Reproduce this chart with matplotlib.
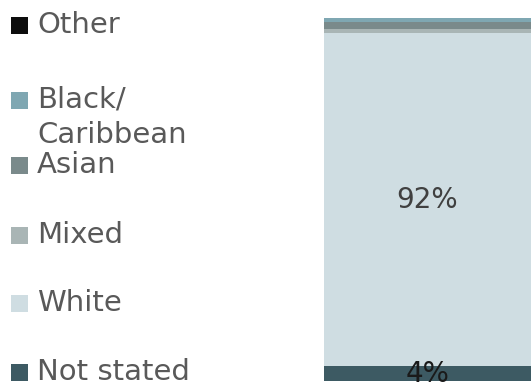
import matplotlib
matplotlib.use("Agg")
import matplotlib.pyplot as plt
from matplotlib.patches import Rectangle

categories = ["Not stated", "White", "Mixed", "Asian", "Black/\nCaribbean", "Other"]
values = [4, 92, 1, 2, 1, 0]
labels = ["4%", "92%", "", "", "", ""]
colors = ["#3D5A63", "#CFDDE2", "#A9B5B5", "#7A8A8B", "#7FA7B2", "#0D0D0D"]

plt.rcParams['font.family'] = ['DejaVu Sans']

W, H = 531, 389
fig = plt.figure(figsize=(W / 100, H / 100), dpi=100)

# bar axes (pixel placement)
left, right, top, bottom = 324, 531, 18, 381
ax = fig.add_axes([left / W, 1 - bottom / H, (right - left) / W, (bottom - top) / H])
base = 0
for v, c, lab in zip(values, colors, labels):
    ax.bar(0, v, bottom=base, width=1.0, color=c, linewidth=0)
    if lab:
        ax.text(0, base + v / 2, lab, ha="center", va="center",
                fontsize=20, color="#404040" if v > 50 else "#1a1a1a")
    base += v
ax.set_xlim(-0.5, 0.5)
ax.set_ylim(0, 100)
ax.axis("off")

# legend (top to bottom: reverse order)
legend_y = {"Other": 25, "Black/\nCaribbean": 100, "Asian": 165,
            "Mixed": 235, "White": 303, "Not stated": 372}
for cat, c in zip(categories, colors):
    yc = legend_y[cat]
    sq = 17
    fig.patches.append(Rectangle((11 / W, 1 - (yc + sq / 2) / H), sq / W, sq / H,
                                 transform=fig.transFigure, color=c, lw=0))
    if "\n" in cat:
        l1, l2 = cat.split("\n")
        fig.text(37 / W, 1 - yc / H, l1, ha="left", va="center", fontsize=21, color="#595959")
        fig.text(37 / W, 1 - (yc + 35) / H, l2, ha="left", va="center", fontsize=21, color="#595959")
    else:
        fig.text(37 / W, 1 - yc / H, cat, ha="left", va="center", fontsize=21, color="#595959")

fig.savefig("out.png", dpi=100)
